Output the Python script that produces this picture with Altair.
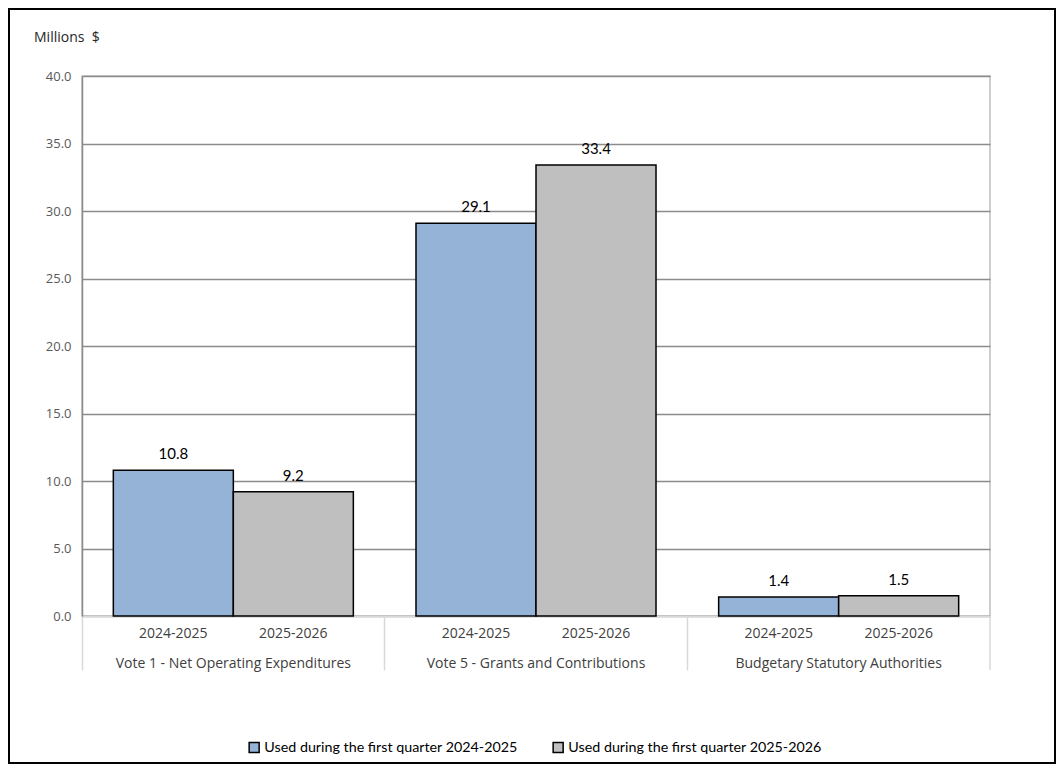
import altair as alt
import pandas as pd

categories = ["Vote 1 - Net Operating Expenditures",
              "Vote  5 - Grants and Contributions",
              "Budgetary Statutory Authorities"]
series = ["Used during the first quarter 2024-2025",
          "Used during the first quarter 2025-2026"]
year_labels = ["2024-2025", "2025-2026"]
values_2024 = [10.8, 29.1, 1.4]
values_2025 = [9.2, 33.4, 1.5]
colors = ["#95B3D7", "#BFBFBF"]

rows = []
for i, c in enumerate(categories):
    rows.append({"cat": c, "series": series[0], "year": year_labels[0], "value": values_2024[i]})
    rows.append({"cat": c, "series": series[1], "year": year_labels[1], "value": values_2025[i]})
df = pd.DataFrame(rows)

W, H = 908, 540
PL, PT = 74, 68
PR, PB = 1048 - PL - W, 756 - PT - H

x_enc = alt.X("cat:N", sort=categories, title=None,
              scale=alt.Scale(paddingInner=0, paddingOuter=0),
              axis=alt.Axis(labelAngle=0, labelFont="Open Sans", labelFontSize=14,
                            labelColor="#404040", domainColor="#D9D9D9", domainWidth=1.5,
                            tickColor="#D9D9D9", tickSize=54, tickWidth=1.5, bandPosition=0,
                            labelBaseline="bottom", labelPadding=0, labelLimit=0))
xo_enc = alt.XOffset("series:N", sort=series,
                     scale=alt.Scale(paddingInner=0, paddingOuter=0.261))
y_enc = alt.Y("value:Q", title=None,
              scale=alt.Scale(domain=[0, 40], nice=False),
              axis=alt.Axis(values=[0, 5, 10, 15, 20, 25, 30, 35, 40], format=".1f",
                            labelFont="Open Sans", labelFontSize=13, labelColor="#595959",
                            labelPadding=11, ticks=False, domainColor="#8C8C8C", domainWidth=1.5,
                            gridColor="#8C8C8C", gridWidth=1.5))

base = alt.Chart(df)

bars = base.mark_bar(stroke="black", strokeWidth=1.5).encode(
    x=x_enc, xOffset=xo_enc, y=y_enc,
    color=alt.Color("series:N", sort=series,
                    scale=alt.Scale(domain=series, range=colors),
                    legend=alt.Legend(title=None, orient="none", direction="horizontal",
                                      legendX=165, legendY=664, symbolType="square",
                                      symbolSize=100, symbolStrokeColor="black",
                                      symbolStrokeWidth=1.5, labelFont="Lato",
                                      labelFontSize=14.3, labelColor="#000000",
                                      columnPadding=32, labelOffset=3, labelLimit=0)),
)

vals = base.mark_text(font="Lato", fontSize=15, baseline="middle", dy=-16, color="#000000").encode(
    x=alt.X("cat:N", sort=categories), xOffset=xo_enc, y="value:Q",
    text=alt.Text("value:Q", format=".1f"),
)

years = base.mark_text(font="Open Sans", fontSize=14, baseline="middle", color="#404040").encode(
    x=alt.X("cat:N", sort=categories), xOffset=xo_enc, y=alt.value(H + 18),
    text="year:N",
)

right_sep = alt.Chart(pd.DataFrame({"k": [0]})).mark_rule(color="#D9D9D9", strokeWidth=1.5).encode(
    x=alt.value(W), y=alt.value(H), y2=alt.value(H + 54))

frame = alt.Chart(pd.DataFrame({"k": [0]})).mark_rect(fillOpacity=0, stroke="black", strokeWidth=2).encode(
    x=alt.value(-PL + 1), x2=alt.value(W + PR - 1), y=alt.value(-PT + 1), y2=alt.value(H + PB - 1))

title = alt.Chart(pd.DataFrame({"k": [0]})).mark_text(
    text="Millions \u00a0$", font="Open Sans", fontSize=14, color="#262626", align="left", baseline="middle"
).encode(x=alt.value(-48), y=alt.value(-38))

chart = alt.layer(bars, vals, years, right_sep, title, frame).properties(
    width=W, height=H,
    autosize=alt.AutoSizeParams(type="none"),
    padding={"left": PL, "top": PT, "right": PR, "bottom": PB},
).configure_view(stroke="#BFBFBF", strokeWidth=1.5)

chart.save("out.html", embed_options={"renderer": "svg", "actions": False})
